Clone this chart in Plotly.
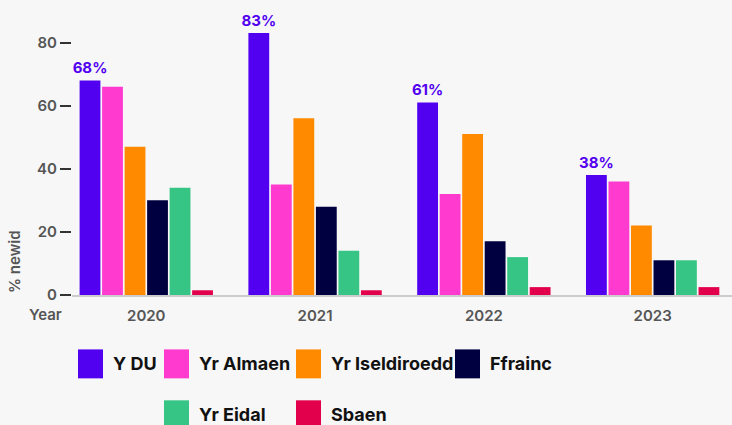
import plotly.graph_objects as go

years = ["2020", "2021", "2022", "2023"]
series_names = ["Y DU", "Yr Almaen", "Yr Iseldiroedd", "Ffrainc", "Yr Eidal", "Sbaen"]
uk = [68, 83, 61, 38]
germany = [66, 35, 32, 36]
netherlands = [47, 56, 51, 22]
france = [30, 28, 17, 11]
italy = [34, 14, 12, 11]
spain = [1.5, 1.5, 2.5, 2.5]
series_values = [uk, germany, netherlands, france, italy, spain]
colors = ["#5200F0", "#FF3ACF", "#FF8A00", "#000040", "#36C584", "#E2004D"]
y_ticks = [0, 20, 40, 60, 80]

W, H = 732, 425
ML, MR, MT, MB = 72, 0, 10, 129.5
PW = W - ML - MR
PH = H - MT - MB

def px_x(px):
    return (px - ML) / PW

def px_y(py):
    return (H - MB - py) / PH

FONT = "Inter"
LEG_FONT = "Inter"

fig = go.Figure()
for i, (name, vals) in enumerate(zip(series_names, series_values)):
    kw = {}
    if i == 0:
        kw = dict(text=[f"{v}%" for v in vals], textposition="outside",
                  textfont=dict(color=colors[0], size=15, family=FONT, weight=700),
                  constraintext="none", cliponaxis=False)
    fig.add_trace(go.Bar(x=years, y=vals, name=name, marker_color=colors[i],
                         marker_line_width=0, showlegend=False, **kw))

# custom legend
leg_pos = [(78, 350), (164, 350), (296, 350), (455, 350), (164, 401), (296, 401)]
shapes = []
annotations = []
for (lx, ly), name, c in zip(leg_pos, series_names, colors):
    shapes.append(dict(type="rect", xref="paper", yref="paper",
                       x0=px_x(lx), x1=px_x(lx + 25), y0=px_y(ly), y1=px_y(ly + 29),
                       fillcolor=c, line_width=0))
    annotations.append(dict(xref="paper", yref="paper", x=px_x(lx + 33), y=px_y(ly + 14.5),
                            text=name, showarrow=False, xanchor="left", yanchor="middle",
                            font=dict(size=18, color="#111111", family=LEG_FONT, weight=700)))

annotations.append(dict(xref="paper", yref="paper", x=px_x(45), y=px_y(315), text="Year",
                        showarrow=False, xanchor="center", yanchor="middle",
                        font=dict(size=15, color="#555555", family=FONT, weight=600)))
annotations.append(dict(xref="paper", yref="paper", x=px_x(15), y=px_y(296), text="% newid",
                        showarrow=False, textangle=-90, xanchor="center", yanchor="bottom",
                        font=dict(size=15, color="#555555", family=FONT, weight=600)))

fig.update_layout(
    width=W, height=H,
    margin=dict(l=ML, r=MR, t=MT, b=MB),
    paper_bgcolor="#F7F7F7", plot_bgcolor="#F7F7F7",
    barmode="group", bargap=0.2, bargroupgap=0.075,
    font=dict(family=FONT),
    showlegend=False,
    shapes=shapes, annotations=annotations,
    xaxis=dict(type="category", range=[-0.44, 3.47], showgrid=False, showline=True,
               linecolor="#CCCCCC", linewidth=2, ticks="", ticklabelstandoff=6,
               tickfont=dict(size=15, color="#555555", family=FONT, weight=600)),
    yaxis=dict(range=[0, 90.3], tickvals=y_ticks, showgrid=False, zeroline=False,
               showline=False, ticks="outside", ticklen=11, tickwidth=1.5,
               tickcolor="#333333",
               tickfont=dict(size=15, color="#555555", family=FONT, weight=600)),
)

fig.write_html("out.html", config={"displayModeBar": False},
               post_script="document.body.style.margin='0';document.body.style.background='#F7F7F7';")
